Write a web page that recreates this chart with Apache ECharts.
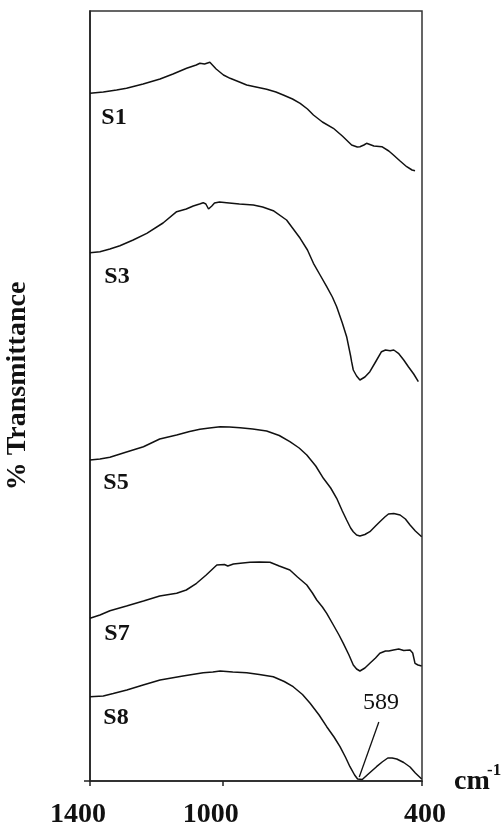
<!DOCTYPE html>
<html>
<head>
<meta charset="utf-8">
<script src="https://cdn.jsdelivr.net/npm/echarts@6/dist/echarts.min.js"></script>
<style>
html,body{margin:0;padding:0;background:#fff;}
#chart{width:503px;height:832px;}
</style>
</head>
<body>
<div id="chart"></div>
<script>
// x tick values (wavenumber, cm-1)
const xTicks = [1400, 1000, 400];
const seriesNames = ['S1', 'S3', 'S5', 'S7', 'S8'];
const peakLabel = '589';
const peakWavenumber = 589;

// [wavenumber, transmittance (arbitrary, offset)]
const s1 = [[1400,687.7],[1360,689],[1320,691],[1290,692.7],[1240,697],[1189,702],[1150,707],[1109,712.7],[1080,716],[1069,717.7],[1055,717],[1050,719],[1039,718.7],[1020,712],[998,706],[978,702.7],[950,699],[928,696],[900,694],[868,691.7],[840,689],[818,686],[790,682],[767,677.7],[745,672],[727,666],[700,659],[667,652.7],[640,645],[612,636],[595,634],[587,634.3],[575,636],[567,637.7],[545,635],[521,634.3],[500,630],[486,626],[466,620],[446,614.3],[430,611],[421,610.3]];

const s3 = [[1400,528.3],[1370,529.3],[1340,532],[1310,535.3],[1270,541],[1229,547.7],[1180,558],[1139,569.3],[1110,572],[1089,575],[1070,577],[1059,578.3],[1051,577],[1043,572],[1039,570.3],[1033,575],[1025,578],[1010,579],[988.6,578.3],[950,577],[908,576],[880,574],[848,570.3],[808,561],[790,553],[767,542.7],[745,531],[727,517.7],[707,506],[687,494.3],[670,484],[657,474.3],[640,458],[627,444.3],[615,425],[612,419.3],[607,411],[597,405],[587,401],[572,404],[557,409.3],[540,419],[522,429.3],[510,431],[496,430.3],[485,431],[471,427.7],[455,421],[441,414.3],[425,407],[411,399.3]];

const s5 = [[1400,321],[1370,322],[1340,323.7],[1290,329],[1239,334.3],[1190,342],[1139,346],[1100,349.5],[1069,351.7],[1040,353],[1008,354.3],[980,354],[948,353.3],[910,352],[868,350],[830,345.5],[798,339.3],[770,333],[747,326],[720,315],[697,302.7],[675,293],[657,282.7],[640,270],[627,261],[615,253],[607,249.3],[597,246],[587,245],[572,246.5],[557,249.3],[540,255],[527,259.3],[512,264],[501,267],[485,267.5],[466,266],[450,262],[436,256],[420,250],[401,244.3]];

const s7 = [[1400,162.7],[1370,166],[1340,170.3],[1290,175],[1239,180],[1190,185],[1139,187.7],[1110,191],[1079,197.7],[1050,206],[1018,216],[995,216.5],[985,215],[968,217],[940,218],[918,218.7],[890,219],[858,218.7],[830,215],[798,211],[775,204],[747,196],[730,188],[717,181],[700,174],[687,167.7],[667,156],[650,146],[637,137.7],[620,126],[607,116],[597,112],[587,110],[572,113],[557,117.7],[540,123],[527,127.7],[510,130],[500,130],[486,131],[470,132],[455,130.5],[436,131],[428,128],[421,117.7],[412,116],[401,115]];

const s8 = [[1400,84.3],[1360,85],[1330,87.5],[1289,91],[1240,96],[1189,101],[1120,105],[1059,108.3],[1030,109],[1008,110],[970,109],[928,108.3],[890,106.5],[848,104.3],[815,99.5],[788,94.3],[760,86.5],[737,77.7],[710,66],[687,54.3],[665,44],[647,34.3],[630,23.5],[617,14.3],[603,6],[594,2],[589,1],[580,1.5],[575,2],[560,7.5],[537,14.3],[520,19],[503,23],[490,23],[476,22],[455,18.5],[436,14],[420,8],[401,2]];

const lineColor = '#111';
const fontFamily = '"Liberation Serif","DejaVu Serif",serif';

const chart = echarts.init(document.getElementById('chart'), null, {renderer:'canvas'});

function mkSeries(name, data) {
  return {
    name: name, type: 'line', data: data, showSymbol: false, symbol: 'none',
    smooth: false, animation: false,
    lineStyle: {color: lineColor, width: 1.5},
    clip: false
  };
}

const series = [
  mkSeries(seriesNames[0], s1),
  mkSeries(seriesNames[1], s3),
  mkSeries(seriesNames[2], s5),
  mkSeries(seriesNames[3], s7),
  mkSeries(seriesNames[4], s8)
];
// leader line for the 589 band
series[4].markLine = {
  silent: true, symbol: ['none','none'], animation: false,
  lineStyle: {color: lineColor, width: 1.3, type: 'solid'},
  label: {show: false},
  data: [[{coord: [peakWavenumber, 4]}, {coord: [530, 59]}]]
};

const labelStyle = {fontFamily: fontFamily, fontWeight: 'bold', fontSize: 24, fill: '#111'};

const option = {
  animation: false,
  backgroundColor: '#fff',
  grid: {left: 90, right: 81, top: 11, bottom: 51, show: true, borderColor: '#333', borderWidth: 1.5,
         containLabel: false, outerBoundsMode: 'none'},
  xAxis: {
    type: 'value', min: 400, max: 1400, inverse: true,
    splitLine: {show: false},
    axisLine: {show: true, onZero: false, lineStyle: {color: '#222', width: 1.6}},
    axisTick: {show: true, inside: false, length: 5, customValues: xTicks, lineStyle: {color: '#222', width: 1.5}},
    axisLabel: {
      show: true, customValues: xTicks, margin: 20,
      formatter: function (v) {
        if (v === 400) return '{r|' + v + '}';
        return '{l|' + v + '}';
      },
      rich: {
        l: {fontFamily: fontFamily, fontWeight: 'bold', fontSize: 28, color: '#111', padding: [0, 24, 0, 0]},
        r: {fontFamily: fontFamily, fontWeight: 'bold', fontSize: 28, color: '#111', padding: [0, 0, 0, 6]}
      }
    }
  },
  yAxis: {
    type: 'value', min: 0, max: 770,
    splitLine: {show: false},
    axisLine: {show: true, lineStyle: {color: '#222', width: 1.6}},
    axisTick: {show: true, length: 6, customValues: [0], lineStyle: {color: '#222', width: 1.5}},
    axisLabel: {show: false}
  },
  series: series,
  graphic: [
    {type: 'text', x: 18, y: 386, rotation: Math.PI / 2,
     style: {text: '% Transmittance', fontFamily: fontFamily, fontWeight: 'bold', fontSize: 28, fill: '#111', align: 'center', verticalAlign: 'middle'}},
    {type: 'text', x: 114, y: 118, style: Object.assign({text: seriesNames[0], align: 'center', verticalAlign: 'middle'}, labelStyle)},
    {type: 'text', x: 117, y: 277, style: Object.assign({text: seriesNames[1], align: 'center', verticalAlign: 'middle'}, labelStyle)},
    {type: 'text', x: 116, y: 483, style: Object.assign({text: seriesNames[2], align: 'center', verticalAlign: 'middle'}, labelStyle)},
    {type: 'text', x: 117, y: 634, style: Object.assign({text: seriesNames[3], align: 'center', verticalAlign: 'middle'}, labelStyle)},
    {type: 'text', x: 116, y: 718, style: Object.assign({text: seriesNames[4], align: 'center', verticalAlign: 'middle'}, labelStyle)},
    {type: 'text', x: 381, y: 703, style: {text: peakLabel, fontFamily: fontFamily, fontWeight: 'normal', fontSize: 24, fill: '#111', align: 'center', verticalAlign: 'middle'}},
    {type: 'text', x: 454, y: 796, style: {text: 'cm', fontFamily: fontFamily, fontWeight: 'bold', fontSize: 28, fill: '#111', align: 'left', verticalAlign: 'bottom'}},
    {type: 'text', x: 487, y: 762, style: {text: '-1', fontFamily: fontFamily, fontWeight: 'bold', fontSize: 17, fill: '#111', align: 'left', verticalAlign: 'top'}}
  ]
};
chart.setOption(option);
</script>
</body>
</html>
